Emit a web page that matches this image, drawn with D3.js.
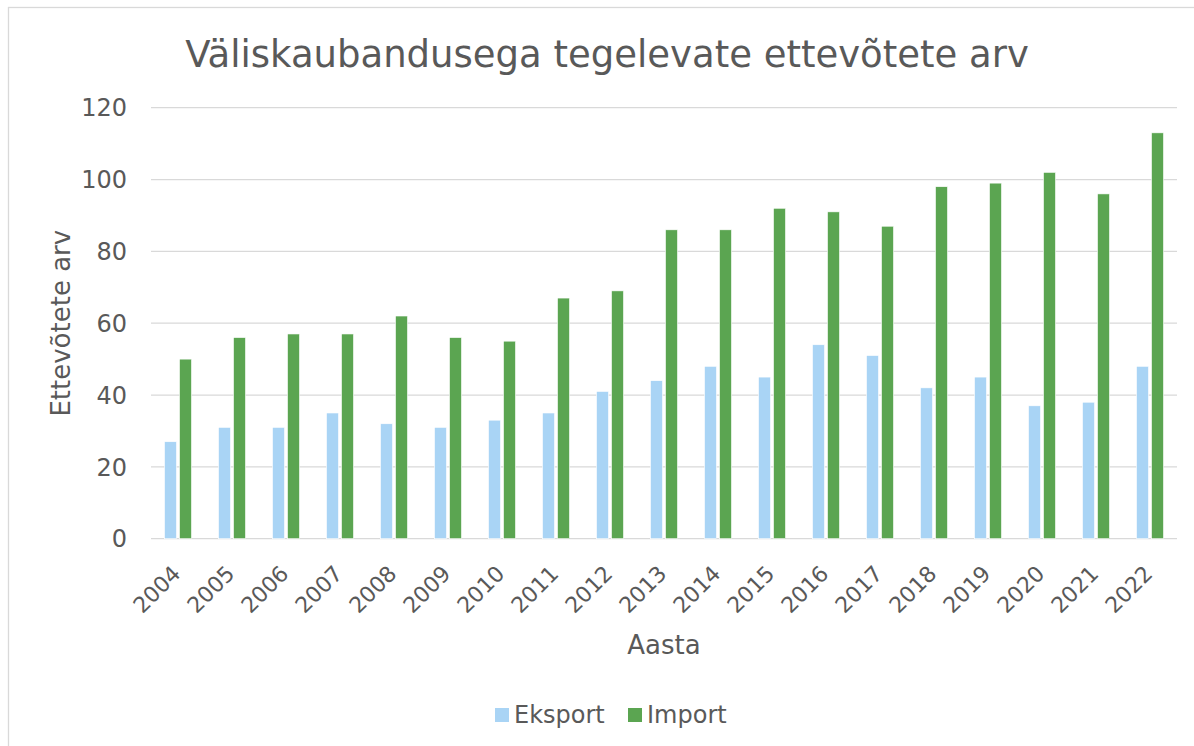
<!DOCTYPE html>
<html>
<head>
<meta charset="utf-8">
<script src="https://cdn.jsdelivr.net/npm/d3@7"></script>
<style>
  html, body { margin: 0; padding: 0; background: #fff; }
  svg { display: block; }
  text { font-family: "DejaVu Sans", Verdana, sans-serif; fill: #595959; }
</style>
</head>
<body>
<svg id="chart" width="1194" height="746"></svg>
<script>
const years = ["2004","2005","2006","2007","2008","2009","2010","2011","2012","2013","2014","2015","2016","2017","2018","2019","2020","2021","2022"];
const seriesNames = ["Eksport", "Import"];
const eksport = [27, 31, 31, 35, 32, 31, 33, 35, 41, 44, 48, 45, 54, 51, 42, 45, 37, 38, 48];
const importVals = [50, 56, 57, 57, 62, 56, 55, 67, 69, 86, 86, 92, 91, 87, 98, 99, 102, 96, 113];
const yTicks = [0, 20, 40, 60, 80, 100, 120];
const colors = ["#A9D4F5", "#5BA551"];
const titleText = "Väliskaubandusega tegelevate ettevõtete arv";
const yTitle = "Ettevõtete arv";
const xTitle = "Aasta";

const svg = d3.select("#chart");

// chart border
svg.append("rect")
  .attr("x", 8.5).attr("y", 7.5)
  .attr("width", 1200).attr("height", 760)
  .attr("fill", "none").attr("stroke", "#d9d9d9").attr("stroke-width", 1.3);

const plotLeft = 151, plotRight = 1177, plotTop = 107.7, plotBottom = 538.7;

const x = d3.scaleBand().domain(years).range([plotLeft, plotRight]).padding(0);
const x1 = d3.scaleBand().domain(seriesNames).range([-13.5, 13.5]).paddingInner(0.2);
const y = d3.scaleLinear().domain([0, 120]).range([plotBottom, plotTop]);

// gridlines
svg.append("g").selectAll("line").data(yTicks).join("line")
  .attr("x1", plotLeft).attr("x2", plotRight)
  .attr("y1", d => y(d)).attr("y2", d => y(d))
  .attr("stroke", "#d9d9d9").attr("stroke-width", 1.3);

// y tick labels
svg.append("g").selectAll("text").data(yTicks).join("text")
  .attr("x", 127).attr("y", d => y(d))
  .attr("dy", "0.36em")
  .attr("text-anchor", "end")
  .style("font-size", "24px")
  .text(d => d);

// bars
const data = seriesNames.map((s, i) => ({ name: s, values: i === 0 ? eksport : importVals, color: colors[i] }));
const groups = svg.append("g").selectAll("g").data(data).join("g")
  .attr("fill", d => d.color);
groups.selectAll("rect").data(d => d.values.map((v, j) => ({ s: d.name, v, year: years[j] }))).join("rect")
  .attr("x", d => x(d.year) + x.bandwidth() / 2 + x1(d.s))
  .attr("width", x1.bandwidth())
  .attr("y", d => y(d.v))
  .attr("height", d => y(0) - y(d.v))
  .attr("stroke", "#ffffff").attr("stroke-width", 0.6);

// x tick labels
svg.append("g").selectAll("text").data(years).join("text")
  .attr("transform", d => `translate(${x(d) + x.bandwidth() / 2 + 4},575) rotate(-45)`)
  .attr("text-anchor", "end")
  .style("font-size", "22px")
  .text(d => d);

// title
svg.append("text")
  .attr("x", 607).attr("y", 67)
  .attr("text-anchor", "middle")
  .style("font-size", "37px")
  .text(titleText);

// axis titles
svg.append("text")
  .attr("transform", `translate(70,${(plotTop + plotBottom) / 2}) rotate(-90)`)
  .attr("text-anchor", "middle")
  .style("font-size", "26px")
  .text(yTitle);

svg.append("text")
  .attr("x", (plotLeft + plotRight) / 2).attr("y", 654)
  .attr("text-anchor", "middle")
  .style("font-size", "26px")
  .text(xTitle);

// legend
const legendX = [495, 628];
const lg = svg.append("g").selectAll("g").data(data).join("g")
  .attr("transform", (d, i) => `translate(${legendX[i]},708)`);
lg.append("rect").attr("width", 14).attr("height", 14).attr("fill", d => d.color);
lg.append("text").attr("x", 19).attr("y", 14.5)
  .style("font-size", "24px")
  .text(d => d.name);
</script>
</body>
</html>
